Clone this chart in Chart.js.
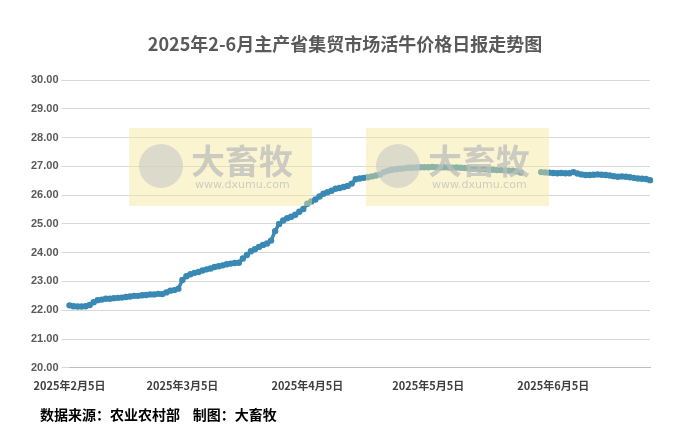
<!DOCTYPE html>
<html>
<head>
<meta charset="utf-8">
<script src="https://cdn.jsdelivr.net/npm/chart.js@4"></script>
<style>
  html, body { margin: 0; padding: 0; background: #fff; }
  #wrap { width: 691px; height: 434px; position: relative; }
</style>
</head>
<body>
<div id="wrap"><canvas id="c"></canvas></div>
<script>
// 每日价格 (元/公斤)，2月5日 - 6月29日
const feb = [22.17,22.14,22.13,22.13,22.14,22.18,22.28,22.35,22.37,22.40,22.40,22.42,22.43,22.44,22.46,22.48,22.50,22.50,22.52,22.53,22.55,22.55,22.57,22.56];
const mar = [22.62,22.68,22.70,22.75,23.05,23.18,23.25,23.30,23.33,23.38,23.42,23.45,23.50,23.53,23.56,23.60,23.62,23.64,23.65,23.80,23.92,24.05,24.12,24.20,24.27,24.32,24.42,24.75,25.00,25.12,25.20];
const apr = [25.25,25.32,25.42,25.52,25.70,25.78,25.85,25.95,26.05,26.10,26.15,26.22,26.25,26.28,26.32,26.40,26.55,26.58,26.60,26.62,26.65,26.68,26.72,26.80,26.85,26.88,26.90,26.92,26.93,26.95];
const may = [26.95,26.96,26.97,26.97,26.97,26.98,26.97,26.96,26.97,26.96,26.95,26.96,26.95,26.94,26.93,26.92,26.92,26.90,26.90,26.89,26.88,26.87,26.87,26.86,26.85,26.85,26.82,26.78,null,null,null];
const jun = [null,26.80,26.79,26.78,26.77,26.76,26.77,26.76,26.76,26.80,26.75,26.72,26.70,26.70,26.71,26.72,26.71,26.70,26.68,26.66,26.64,26.65,26.64,26.62,26.60,26.58,26.57,26.56,26.52];

const months = [[2, 5, feb], [3, 1, mar], [4, 1, apr], [5, 1, may], [6, 1, jun]];
const labels = [];
const values = [];
months.forEach(([m, start, arr]) => {
    arr.forEach((v, i) => {
        labels.push('2025年' + m + '月' + (start + i) + '日');
        values.push(v);
    });
});

const titleText = '2025年2-6月主产省集贸市场活牛价格日报走势图';
const sourceText = '数据来源：农业农村部    制图：大畜牧';
const lineColor = '#3a88b4';

// 标题、来源、水印
const decor = {
    id: 'decor',
    afterDatasetsDraw(chart) {
        const g = chart.ctx;
        g.save();
        [[129, 128], [366, 128]].forEach(([x, y]) => {
            g.fillStyle = 'rgba(245,232,150,0.45)';
            g.fillRect(x, y, 183, 78);
            g.beginPath();
            g.arc(x + 32, y + 38, 22, 0, Math.PI * 2);
            g.fillStyle = 'rgba(200,200,200,0.6)';
            g.fill();
            g.fillStyle = 'rgba(190,190,190,0.75)';
            g.font = 'bold 34px "Noto Sans CJK SC"';
            g.fillText('大畜牧', x + 62, y + 46);
            g.font = '11px "DejaVu Sans"';
            g.fillText('www.dxumu.com', x + 66, y + 60);
        });
        g.restore();
    },
    afterDraw(chart) {
        const g = chart.ctx;
        g.save();
        g.fillStyle = '#595959';
        g.font = 'bold 18px "Noto Sans CJK SC"';
        g.textAlign = 'center';
        g.fillText(titleText, 345, 51);
        g.fillStyle = '#000';
        g.font = 'bold 14px "Noto Sans CJK SC"';
        g.textAlign = 'left';
        g.fillText(sourceText, 40, 420);
        g.restore();
    }
};

new Chart(document.getElementById('c'), {
    type: 'line',
    data: {
        labels: labels,
        datasets: [{
            data: values,
            borderColor: lineColor,
            backgroundColor: lineColor,
            borderWidth: 3.5,
            pointRadius: 3.2,
            pointBorderWidth: 0,
            spanGaps: false,
            tension: 0
        }]
    },
    options: {
        responsive: true,
        maintainAspectRatio: false,
        animation: false,
        layout: { padding: { top: 80, right: 41, bottom: 39, left: 28 } },
        plugins: { legend: { display: false }, tooltip: { enabled: false } },
        scales: {
            y: {
                min: 20,
                max: 30,
                ticks: {
                    stepSize: 1,
                    color: '#595959',
                    font: { size: 11, weight: 'bold', family: 'Liberation Sans' },
                    callback: v => v.toFixed(2)
                },
                grid: { color: '#d9d9d9' },
                border: { display: false }
            },
            x: {
                offset: false,
                ticks: {
                    autoSkip: false,
                    maxRotation: 0,
                    color: '#404040',
                    font: { size: 11, weight: 'bold', family: 'Noto Sans CJK SC' },
                    callback: function (v) {
                        const l = labels[v];
                        return /月5日$/.test(l) ? l : null;
                    }
                },
                grid: { display: false },
                border: { color: '#bfbfbf' }
            }
        }
    },
    plugins: [decor]
});
</script>
</body>
</html>
